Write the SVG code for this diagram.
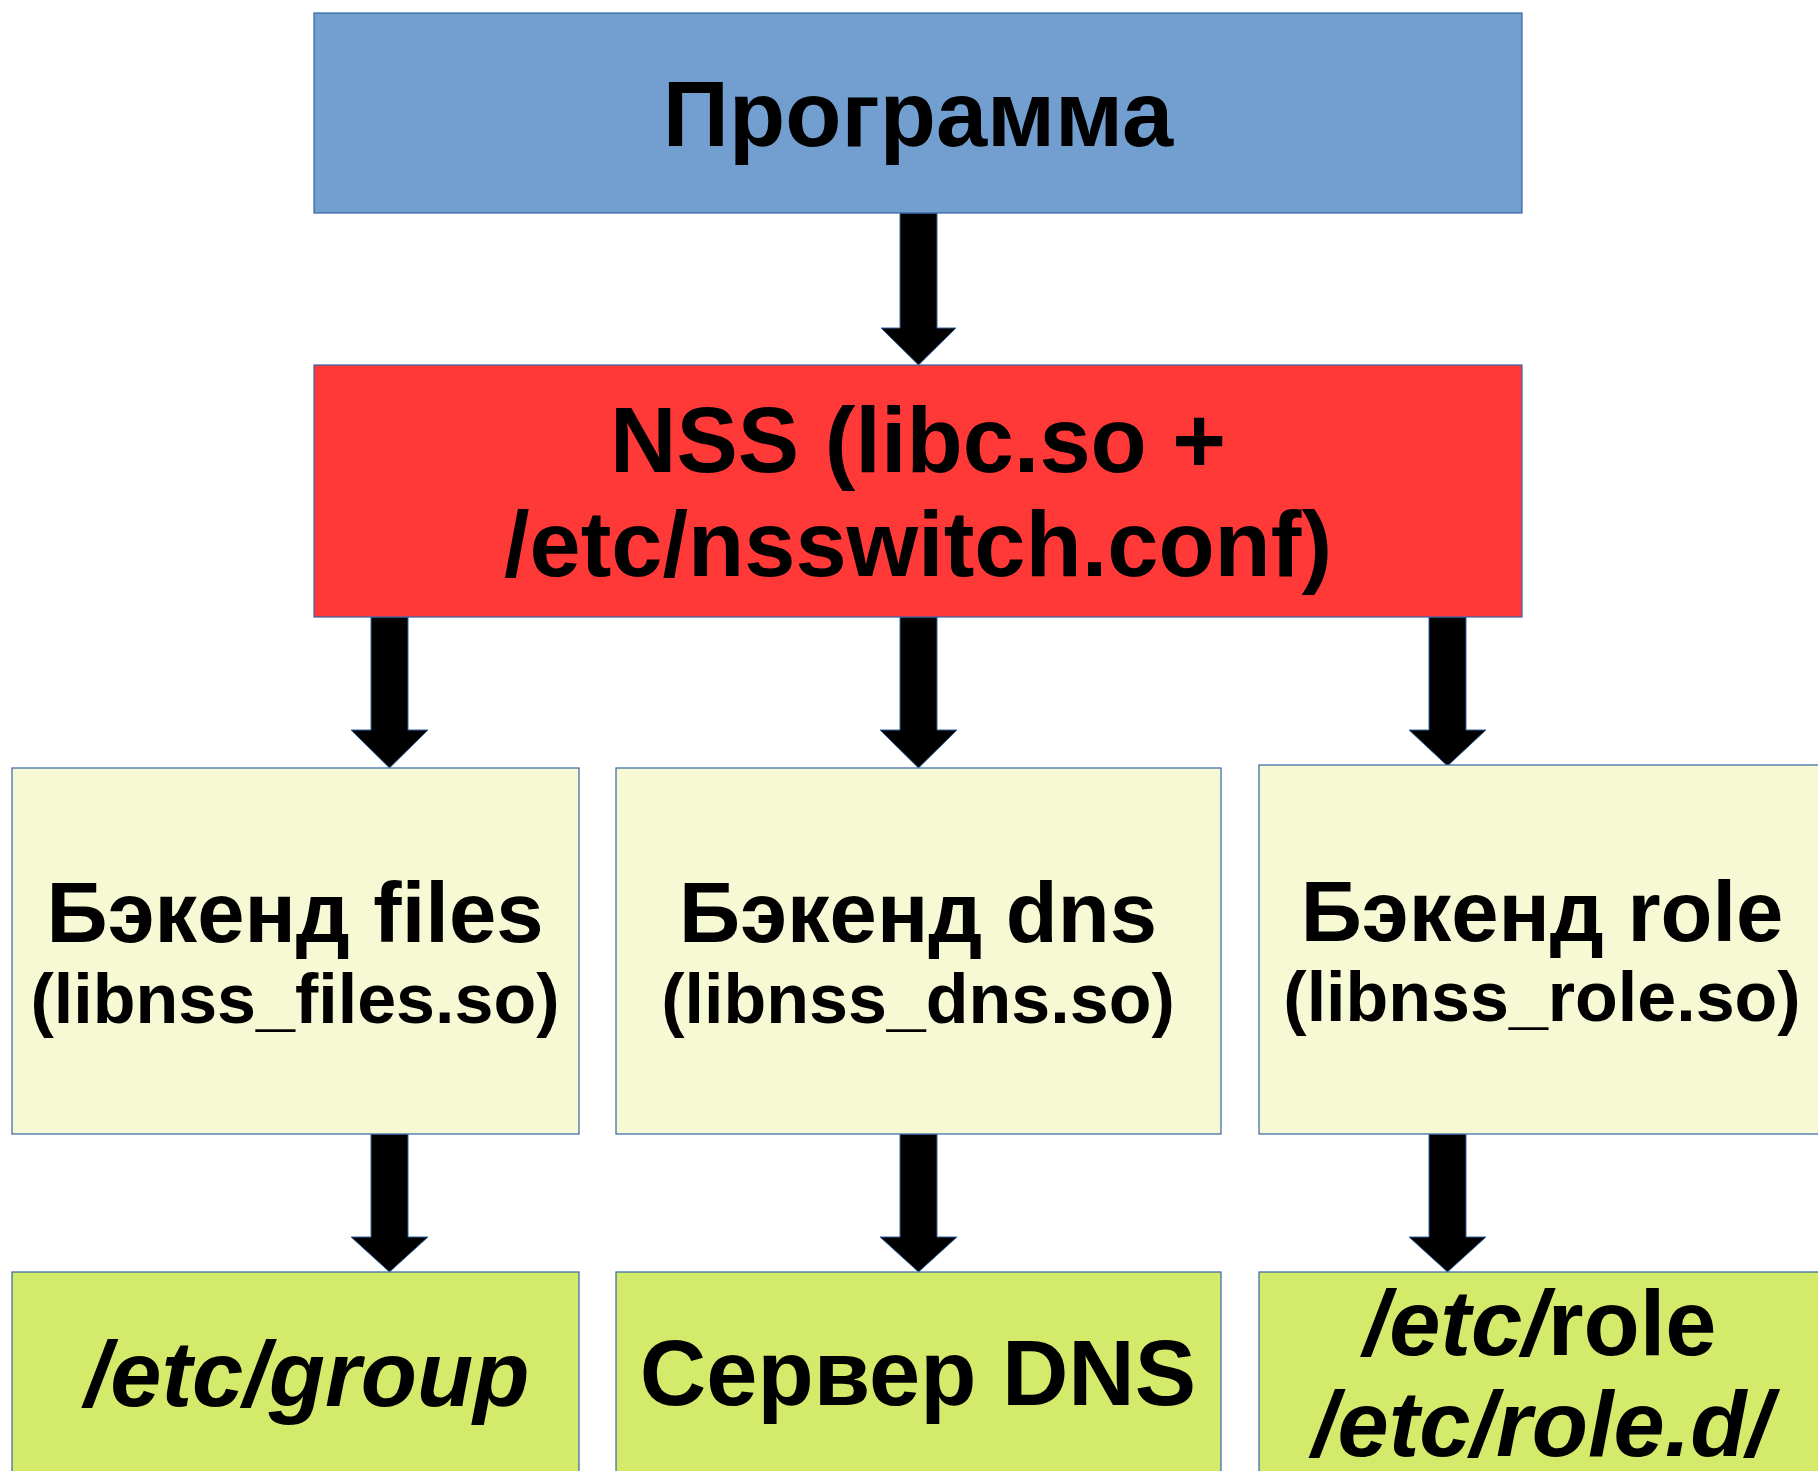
<svg xmlns="http://www.w3.org/2000/svg" width="1818" height="1471" viewBox="0 0 1818 1471">
<style>
  .box { stroke: #3465a4; stroke-width: 1.2; }
  .blue { fill: #729fcf; }
  .red { fill: #ff3838; }
  .pale { fill: #f6f9d4; }
  .lime { fill: #d4ea6b; }
  .arrow { fill: #000000; stroke: #3465a4; stroke-width: 1; }
  text { font-family: "Liberation Sans", Arial, sans-serif; font-weight: bold; fill: #000000; text-anchor: middle; }
  .big { font-size: 92px; }
  .mid { font-size: 85px; }
  .small { font-size: 70px; }
  .it { font-style: italic; }
</style>
<rect width="1818" height="1471" fill="#ffffff"/>
<g id="connectors">
  <path class="arrow" d="M900,213 H937 V328 H956 L918.5,365 L881,328 H900 Z"/>
  <path class="arrow" d="M371,617 H408 V730 H428 L389.5,768 L351,730 H371 Z"/>
  <path class="arrow" d="M900,617 H937 V730 H957 L918.5,768 L880,730 H900 Z"/>
  <path class="arrow" d="M1429,617 H1466 V730 H1486 L1447.5,766 L1409,730 H1429 Z"/>
  <path class="arrow" d="M371,1134 H408 V1237 H428 L389.5,1272 L351,1237 H371 Z"/>
  <path class="arrow" d="M900,1134 H937 V1237 H957 L918.5,1272 L880,1237 H900 Z"/>
  <path class="arrow" d="M1429,1134 H1466 V1237 H1486 L1447.5,1272 L1409,1237 H1429 Z"/>
</g>
<g id="node-program">
  <rect class="box blue" x="314" y="13" width="1208" height="200"/>
  <text class="big" x="918" y="146">Программа</text>
</g>
<g id="node-nss">
  <rect class="box red" x="314" y="365" width="1208" height="252"/>
  <text class="big" x="918" y="472">NSS (libc.so +</text>
  <text class="big" x="918" y="576">/etc/nsswitch.conf)</text>
</g>
<g id="node-files">
  <rect class="box pale" x="12" y="768" width="567" height="366"/>
  <text class="mid" x="295" y="942">Бэкенд files</text>
  <text class="small" x="295" y="1023">(libnss_files.so)</text>
</g>
<g id="node-dns">
  <rect class="box pale" x="616" y="768" width="605" height="366"/>
  <text class="mid" x="918" y="942">Бэкенд dns</text>
  <text class="small" x="918" y="1023">(libnss_dns.so)</text>
</g>
<g id="node-role">
  <rect class="box pale" x="1259" y="765" width="580" height="369"/>
  <text class="mid" x="1542" y="941">Бэкенд role</text>
  <text class="small" x="1542" y="1021">(libnss_role.so)</text>
</g>
<g id="node-group">
  <rect class="box lime" x="12" y="1272" width="567" height="220"/>
  <text class="big it" x="307" y="1406">/etc/group</text>
</g>
<g id="node-dnsserver">
  <rect class="box lime" x="616" y="1272" width="605" height="220"/>
  <text class="big" x="918" y="1405">Сервер DNS</text>
</g>
<g id="node-rolefiles">
  <rect class="box lime" x="1259" y="1272" width="580" height="220"/>
  <text class="big" x="1540" y="1355"><tspan class="it">/etc/</tspan>role</text>
  <text class="big it" x="1542" y="1456">/etc/role.d/</text>
</g>
</svg>
